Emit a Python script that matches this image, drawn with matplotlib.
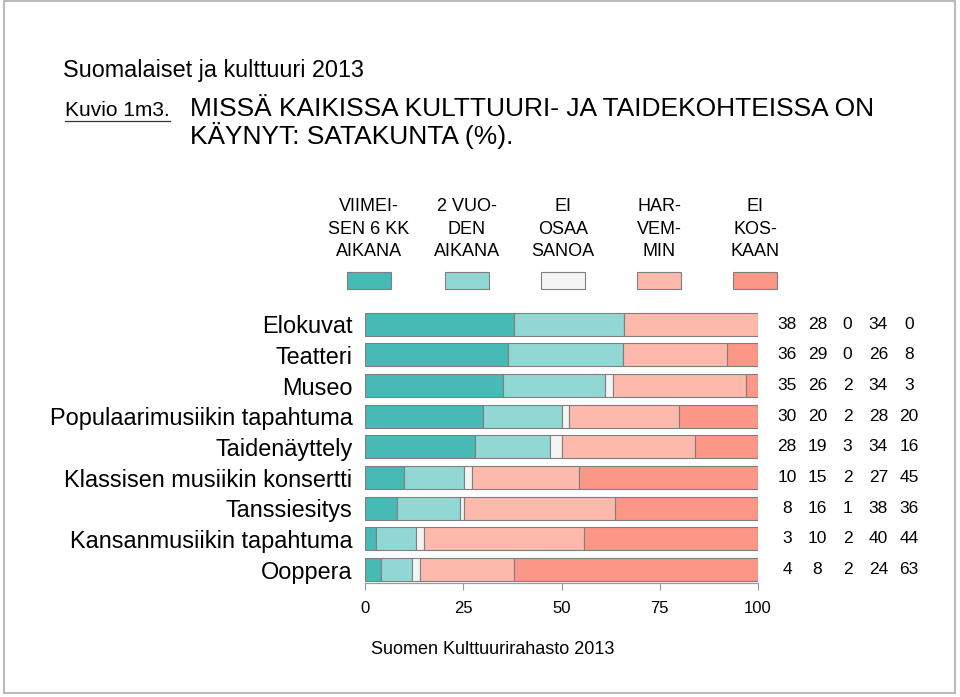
import matplotlib
matplotlib.use('Agg')
import matplotlib.pyplot as plt
from matplotlib.patches import Rectangle

plt.rcParams['font.family'] = ['Liberation Sans', 'DejaVu Sans']

# data
categories = ['Elokuvat', 'Teatteri', 'Museo', 'Populaarimusiikin tapahtuma',
              'Taidenäyttely', 'Klassisen musiikin konsertti', 'Tanssiesitys',
              'Kansanmusiikin tapahtuma', 'Ooppera']
# printed (rounded) percentages
last_6_months = [38, 36, 35, 30, 28, 10, 8, 3, 4]
last_2_years = [28, 29, 26, 20, 19, 15, 16, 10, 8]
dont_know = [0, 0, 2, 2, 3, 2, 1, 2, 2]
less_often = [34, 26, 34, 28, 34, 27, 38, 40, 24]
never = [0, 8, 3, 20, 16, 45, 36, 44, 63]
# bar lengths (unrounded where the rounded ones sum to 99)
bar_6_months = [38, 36.3, 35, 30, 28, 10.0, 8.1, 2.9, 4]
bar_2_years = [28, 29.4, 26, 20, 19, 15.1, 16.1, 10.0, 8]
bar_dont_know = [0, 0, 2, 2, 3, 2.1, 1.0, 2.1, 2]
bar_less_often = [34, 26.3, 34, 28, 34, 27.3, 38.3, 40.6, 24]
bar_never = [0, 8.0, 3, 20, 16, 45.5, 36.5, 44.4, 63]

series_names = ['VIIMEI-\nSEN 6 KK\nAIKANA', '2 VUO-\nDEN\nAIKANA', 'EI\nOSAA\nSANOA',
                'HAR-\nVEM-\nMIN', 'EI\nKOS-\nKAAN']
colors = ['#47BAB5', '#91D8D4', '#F4F4F4', '#FDB9AC', '#FC9686']
xticks = [0, 25, 50, 75, 100]

labels = [last_6_months, last_2_years, dont_know, less_often, never]
bars = [bar_6_months, bar_2_years, bar_dont_know, bar_less_often, bar_never]

W, H = 960, 697
fig = plt.figure(figsize=(W / 100, H / 100), dpi=100)

# axes placed to match the reference layout
ax = fig.add_axes([365 / W, (H - 583) / H, 393 / W, 274 / H])
rows = list(range(len(categories)))
left = [0] * len(categories)
for vals, col in zip(bars, colors):
    ax.barh(rows, vals, left=left, height=0.75, color=col,
            edgecolor='#7f7f7f', linewidth=0.8)
    left = [l + v for l, v in zip(left, vals)]

ax.set_xlim(0, 100)
ax.set_ylim(8.44, -0.5)
for s in ['top', 'right', 'left']:
    ax.spines[s].set_visible(False)
ax.spines['bottom'].set_color('#999999')
ax.spines['bottom'].set_linewidth(0.9)
ax.set_xticks(xticks)
ax.set_xticklabels([str(t) for t in xticks], fontsize=12)
ax.tick_params(axis='x', length=5, color='#999999', pad=8)
ax.set_yticks(rows)
ax.set_yticklabels(categories, fontsize=16.9)
ax.tick_params(axis='y', length=0, pad=9)

# value columns to the right of the bars
col_x = [107.4, 115.1, 122.8, 130.6, 138.4]
for i in rows:
    for vals, cx in zip(labels, col_x):
        ax.text(cx, i, str(vals[i]), ha='center', va='center', fontsize=12.5,
                clip_on=False)

# legend: headers above colored boxes
leg_x = [369, 467, 563, 659, 755]
for name, col, cx in zip(series_names, colors, leg_x):
    fig.text(cx / W, 1 - 229 / H, name, ha='center', va='center',
             fontsize=13, linespacing=1.42)
    fig.patches.append(Rectangle(((cx - 22) / W, 1 - 289 / H), 44 / W, 17 / H,
                                 transform=fig.transFigure, facecolor=col,
                                 edgecolor='#7f7f7f', linewidth=0.8))

# titles
fig.text(63 / W, 1 - 70 / H, 'Suomalaiset ja kulttuuri 2013', fontsize=16.8,
         va='center', ha='left')
fig.text(65 / W, 1 - 111 / H, 'Kuvio 1m3.', fontsize=15, va='center', ha='left')
fig.add_artist(plt.Line2D([65 / W, 170 / W], [1 - 121 / H, 1 - 121 / H],
                          color='#333333', linewidth=0.9))
fig.text(190 / W, 1 - 123 / H, 'MISSÄ KAIKISSA KULTTUURI- JA TAIDEKOHTEISSA ON\nKÄYNYT: SATAKUNTA (%).',
         fontsize=19, va='center', ha='left', linespacing=1.05)

fig.text(371 / W, 1 - 650 / H, 'Suomen Kulttuurirahasto 2013', fontsize=13,
         va='center', ha='left')

# outer frame
fig.patches.append(Rectangle((4 / W, 4 / H), 951 / W, 692 / H,
                             transform=fig.transFigure, fill=False,
                             edgecolor='#bbbbbb', linewidth=1.5))

fig.savefig('out.png', dpi=100)
